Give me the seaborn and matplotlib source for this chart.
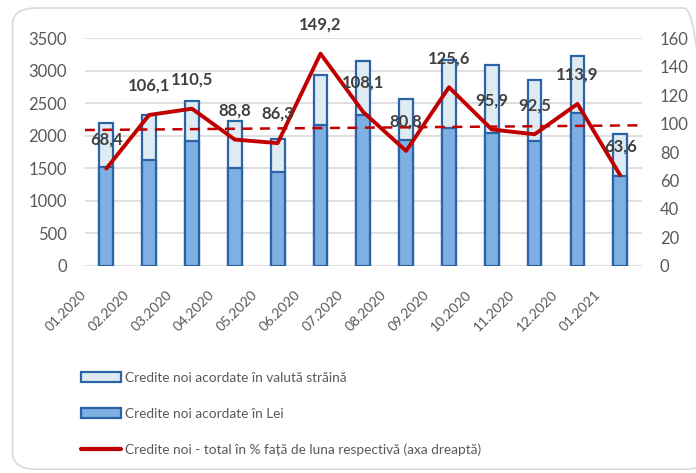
import numpy as np
import matplotlib
matplotlib.use("Agg")
import matplotlib.pyplot as plt
import matplotlib.transforms as mtrans
import seaborn as sns
from matplotlib.patches import Patch, FancyBboxPatch
from matplotlib.lines import Line2D

# date
luni = ["01.2020", "02.2020", "03.2020", "04.2020", "05.2020", "06.2020", "07.2020",
        "08.2020", "09.2020", "10.2020", "11.2020", "12.2020", "01.2021"]
credite_total = [2193, 2322, 2541, 2224, 1954, 2940, 3150, 2567, 3160, 3089, 2863, 3221, 2031]
credite_lei = [1518, 1621, 1917, 1509, 1437, 2173, 2327, 1943, 2117, 2046, 1917, 2347, 1386]
procent_total = [68.4, 106.1, 110.5, 88.8, 86.3, 149.2, 108.1, 80.8, 125.6, 95.9, 92.5, 113.9, 63.6]
linie_punctata = [95.5, 98.8]

leg_valuta = "Credite noi acordate în valută străină"
leg_lei = "Credite noi acordate în Lei"
leg_procent = "Credite noi - total în % față de luna respectivă (axa dreaptă)"

sns.set_style("white")
plt.rcParams['font.family'] = ['Lato', 'DejaVu Sans']

c_lei = "#7FB0E4"
c_valuta = "#DEEBF2"
c_edge = "#2A64A6"
c_rosu = "#C00000"
c_text = "#595959"

fig = plt.figure(figsize=(6.96, 4.73), dpi=100)
ax = fig.add_axes([0.122, 0.438, 0.800, 0.481])

# bare suprapuse: totalul (valuta) dedesubt, lei peste
sns.barplot(x=luni, y=credite_total, color=c_valuta, edgecolor=c_edge, linewidth=1.6,
            width=0.32, saturation=1, errorbar=None, ax=ax)
sns.barplot(x=luni, y=credite_lei, color=c_lei, edgecolor=c_edge, linewidth=1.6,
            width=0.32, saturation=1, errorbar=None, ax=ax)

ax.set_ylim(0, 3500)
ax.set_xlim(-0.5, 12.5)
ax.set_yticks(np.arange(0, 3501, 500))
ax.yaxis.grid(True, color="#D9D9D9", linewidth=1.2)
ax.set_axisbelow(True)
for s in ax.spines.values():
    s.set_visible(False)
ax.tick_params(axis="y", length=0, pad=13, labelsize=12, labelcolor=c_text)
ax.tick_params(axis="x", length=0, pad=4, labelsize=10, labelcolor=c_text)
deplasare = mtrans.ScaledTranslation(-19 / 72, -12 / 72, fig.dpi_scale_trans)
for lbl in ax.get_xticklabels():
    lbl.set_rotation(45)
    lbl.set_ha("right")
    lbl.set_rotation_mode("anchor")
    lbl.set_transform(lbl.get_transform() + deplasare)
ax.set_xlabel("")
ax.set_ylabel("")

# axa dreapta
ax2 = ax.twinx()
xpos = np.arange(len(luni))
ax2.plot(ax.get_xlim(), linie_punctata, color=c_rosu, linestyle=(0, (4, 3)), linewidth=1.8)
sns.lineplot(x=xpos, y=procent_total, color=c_rosu, linewidth=2.8, ax=ax2)
ax2.set_ylim(0, 160)
ax2.set_yticks(np.arange(0, 161, 20))
for s in ax2.spines.values():
    s.set_visible(False)
ax2.tick_params(axis="y", length=0, pad=13, labelsize=12, labelcolor=c_text)
ax2.set_ylabel("")

for i, v in enumerate(procent_total):
    ax2.annotate(f"{v:.1f}".replace(".", ","), (i, v), xytext=(0, 21),
                 textcoords="offset points", ha="center", va="center",
                 fontsize=12, fontweight="bold", color="#404040")

handles = [
    Patch(facecolor=c_valuta, edgecolor=c_edge, linewidth=1.6),
    Patch(facecolor=c_lei, edgecolor=c_edge, linewidth=1.6),
    Line2D([0], [0], color=c_rosu, linewidth=3),
]
fig.legend(handles, [leg_valuta, leg_lei, leg_procent], loc="upper left",
           bbox_to_anchor=(0.107, 0.228), frameon=False, fontsize=9.8,
           labelcolor=c_text, handlelength=2.9, handleheight=0.75,
           handletextpad=0.3, labelspacing=1.75, borderpad=0)

# chenar rotunjit
fig.patches.append(FancyBboxPatch((0.018, 0.008), 1.0, 0.975,
                                  boxstyle="round,pad=0,rounding_size=0.035",
                                  transform=fig.transFigure, fill=False,
                                  edgecolor="#D9D9D9", linewidth=1.2))

fig.savefig("out.png", dpi=100)
